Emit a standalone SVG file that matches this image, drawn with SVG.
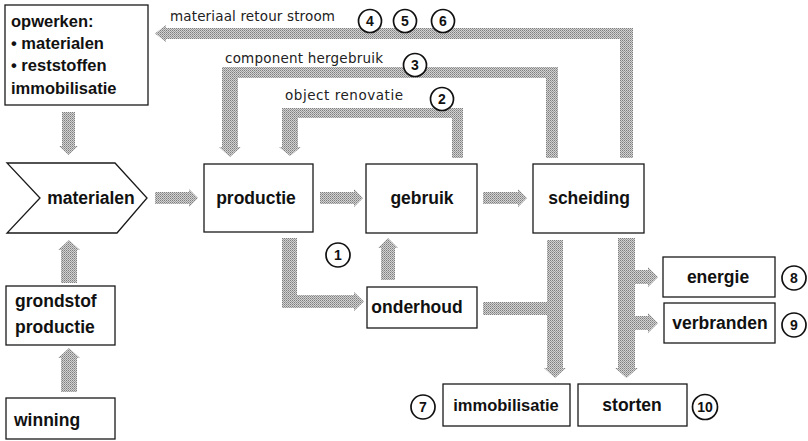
<svg xmlns="http://www.w3.org/2000/svg" width="808" height="441" viewBox="0 0 808 441">
  <defs>
    <!-- halftone grey used for all flow arrows -->
    <pattern id="dither" width="2" height="2" patternUnits="userSpaceOnUse">
      <rect width="2" height="2" fill="#d2d2d2"/>
      <rect width="1" height="1" fill="#7e7e7e"/>
      <rect x="1" y="1" width="1" height="1" fill="#9c9c9c"/>
    </pattern>
    <style>
      .box { fill: #fff; stroke: #1a1a1a; stroke-width: 1.3; }
      .lbl { font-family: "Liberation Sans", Arial, sans-serif; font-weight: bold; font-size: 17.5px; fill: #111; }
      .lbl-s { font-family: "Liberation Sans", Arial, sans-serif; font-weight: bold; font-size: 16.5px; fill: #111; }
      .mid { text-anchor: middle; }
      .flow { font-family: "DejaVu Sans", Verdana, sans-serif; font-size: 13.5px; fill: #222; }
      .arrow { fill: url(#dither); stroke: none; }
      .num circle { fill: #fff; stroke: #111; stroke-width: 1.7; }
      .num text { font-family: "Liberation Sans", Arial, sans-serif; font-weight: bold; font-size: 14px; fill: #111; text-anchor: middle; }
    </style>
  </defs>

  <rect width="808" height="441" fill="#fff"/>

  <!-- flow connectors -->
  <g id="connectors">
    <!-- opwerken -> materialen -->
    <path class="arrow" d="M62,112 L75,112 L75,146 L78,146 L68.5,155 L59,146 L62,146 Z"/>
    <!-- grondstof productie -> materialen -->
    <path class="arrow" d="M61,283 L77,283 L77,250 L80,250 L69,240 L58,250 L61,250 Z"/>
    <!-- winning -> grondstof productie -->
    <path class="arrow" d="M61,392 L77,392 L77,358 L80,358 L69,348 L58,358 L61,358 Z"/>
    <!-- materialen -> productie -->
    <path class="arrow" d="M155,192 L189,192 L189,189 L198,198 L189,207 L189,204 L155,204 Z"/>
    <!-- productie -> gebruik -->
    <path class="arrow" d="M320,192 L354,192 L354,189 L363,198 L354,207 L354,204 L320,204 Z"/>
    <!-- gebruik -> scheiding -->
    <path class="arrow" d="M483,192 L518,192 L518,189 L527,198 L518,207 L518,204 L483,204 Z"/>
    <!-- productie -> onderhoud -->
    <path class="arrow" d="M282,238 L297,238 L297,295 L354,295 L354,292 L364,301.5 L354,311 L354,308 L282,308 Z"/>
    <!-- onderhoud -> gebruik -->
    <path class="arrow" d="M381,280 L395,280 L395,248 L398,248 L388,238 L378,248 L381,248 Z"/>
    <!-- object renovatie: gebruik -> productie -->
    <path class="arrow" d="M463,158 L463,108 L282,108 L282,147 L279,147 L290,156 L301,147 L298,147 L298,118 L452,118 L452,158 Z"/>
    <!-- component hergebruik: scheiding -> productie -->
    <path class="arrow" d="M558,158 L558,67 L222,67 L222,147 L219,147 L230,157 L241,147 L238,147 L238,78 L546,78 L546,158 Z"/>
    <!-- materiaal retour stroom: scheiding -> opwerken -->
    <path class="arrow" d="M633,158 L633,28 L166,28 L166,25 L155,33.5 L166,42 L166,39 L620,39 L620,158 Z"/>
    <!-- scheiding / onderhoud -> immobilisatie -->
    <path class="arrow" d="M547,240 L563,240 L563,368 L566,368 L555,378 L544,368 L547,368 L547,315 L483,315 L483,302 L547,302 Z"/>
    <!-- scheiding -> energie, verbranden, storten -->
    <path class="arrow" d="M618,238 L635,238 L635,270 L648,270 L648,267 L658,277 L648,287 L648,284 L635,284 L635,316 L648,316 L648,313 L658,323 L648,333 L648,330 L635,330 L635,368 L638,368 L626.5,378 L615,368 L618,368 Z"/>
  </g>

  <!-- flow labels -->
  <g id="flow-labels">
    <text class="flow" x="170" y="21" textLength="165" lengthAdjust="spacing">materiaal retour stroom</text>
    <text class="flow" x="225" y="63" textLength="158" lengthAdjust="spacing">component hergebruik</text>
    <text class="flow" x="285" y="100" textLength="118" lengthAdjust="spacing">object renovatie</text>
  </g>

  <!-- nodes -->
  <g id="opwerken">
    <rect class="box" x="5" y="5" width="143" height="100"/>
    <text class="lbl-s" x="11" y="27">opwerken:</text>
    <text class="lbl-s" x="11" y="49">• materialen</text>
    <text class="lbl-s" x="11" y="71">• reststoffen</text>
    <text class="lbl-s" x="11" y="94">immobilisatie</text>
  </g>
  <g id="materialen">
    <polygon class="box" points="7,163 115,163 147,198 117,233 7,233 40,198"/>
    <text class="lbl mid" x="91" y="204">materialen</text>
  </g>
  <g id="productie">
    <rect class="box" x="204" y="164" width="109" height="68"/>
    <text class="lbl mid" x="256" y="204">productie</text>
  </g>
  <g id="gebruik">
    <rect class="box" x="366" y="164" width="111" height="69"/>
    <text class="lbl mid" x="422" y="204">gebruik</text>
  </g>
  <g id="scheiding">
    <rect class="box" x="533" y="164" width="111" height="69"/>
    <text class="lbl mid" x="589" y="204">scheiding</text>
  </g>
  <g id="onderhoud">
    <rect class="box" x="367" y="287" width="110" height="41"/>
    <text class="lbl mid" x="417" y="313">onderhoud</text>
  </g>
  <g id="energie">
    <rect class="box" x="663" y="257" width="112" height="40"/>
    <text class="lbl mid" x="718" y="283">energie</text>
  </g>
  <g id="verbranden">
    <rect class="box" x="664" y="303" width="111" height="40"/>
    <text class="lbl mid" x="720" y="329">verbranden</text>
  </g>
  <g id="immobilisatie">
    <rect class="box" x="443" y="384" width="127" height="42"/>
    <text class="lbl-s mid" x="506" y="411">immobilisatie</text>
  </g>
  <g id="storten">
    <rect class="box" x="578" y="384" width="109" height="42"/>
    <text class="lbl mid" x="632" y="411">storten</text>
  </g>
  <g id="grondstof-productie">
    <rect class="box" x="6" y="286" width="109" height="59"/>
    <text class="lbl" x="15" y="307">grondstof</text>
    <text class="lbl" x="15" y="333">productie</text>
  </g>
  <g id="winning">
    <rect class="box" x="6" y="398" width="109" height="41"/>
    <text class="lbl" x="14" y="426">winning</text>
  </g>

  <!-- numbered markers -->
  <g id="markers" class="num">
    <g><circle cx="338" cy="255" r="12"/><text x="338" y="260">1</text></g>
    <g><circle cx="442" cy="99" r="11.5"/><text x="442" y="104">2</text></g>
    <g><circle cx="415" cy="65" r="11.5"/><text x="415" y="70">3</text></g>
    <g><circle cx="370" cy="21" r="11.5"/><text x="370" y="26">4</text></g>
    <g><circle cx="405" cy="21" r="11.5"/><text x="405" y="26">5</text></g>
    <g><circle cx="443" cy="21" r="11.5"/><text x="443" y="26">6</text></g>
    <g><circle cx="423" cy="407" r="12"/><text x="423" y="412">7</text></g>
    <g><circle cx="794" cy="278" r="12"/><text x="794" y="283">8</text></g>
    <g><circle cx="794" cy="325" r="12"/><text x="794" y="330">9</text></g>
    <g><circle cx="705" cy="407" r="12.5"/><text x="705" y="412">10</text></g>
  </g>
</svg>
